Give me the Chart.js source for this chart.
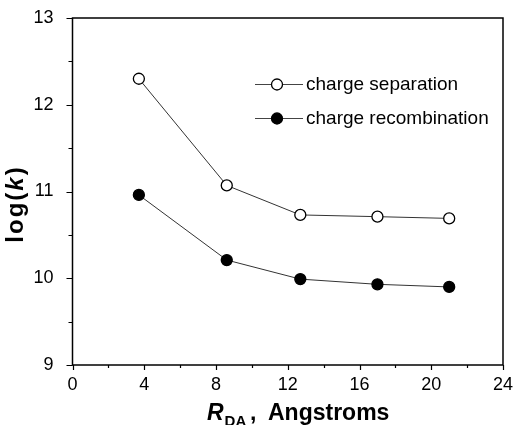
<!DOCTYPE html>
<html>
<head>
<meta charset="utf-8">
<style>
  html, body { margin: 0; padding: 0; background: #fff; }
  #chart { display: block; }
</style>
<script src="https://cdn.jsdelivr.net/npm/chart.js@4/dist/chart.umd.min.js"></script>
</head>
<body>
<canvas id="chart" width="514" height="425"></canvas>
<script>
  // donor-acceptor distance (Angstroms) and log rate constants
  const distances = [3.7, 8.6, 12.7, 17.0, 21.0];
  const separation = [12.30, 11.07, 10.73, 10.71, 10.69];
  const recombination = [10.96, 10.21, 9.99, 9.93, 9.90];
  const xTicks = [0, 4, 8, 12, 16, 20, 24];
  const yTicks = [9, 10, 11, 12, 13];
  const seriesNames = ['charge separation', 'charge recombination'];

  const FONT = '"Liberation Sans", Arial, sans-serif';

  function points(ys) {
    return distances.map((x, i) => ({ x, y: ys[i] }));
  }

  // frame, outward ticks, axis titles and the legend drawn by hand
  const decor = {
    id: 'decor',
    afterDraw(chart) {
      const { ctx, chartArea: a, scales: { x, y } } = chart;
      ctx.save();
      ctx.strokeStyle = '#000';
      ctx.lineWidth = 1.5;
      ctx.strokeRect(a.left, a.top, a.right - a.left, a.bottom - a.top);

      ctx.lineWidth = 1.2;
      ctx.beginPath();
      yTicks.forEach((v, i) => {
        const py = Math.round(y.getPixelForValue(v)) + 0.5;
        ctx.moveTo(a.left - 6, py); ctx.lineTo(a.left, py);
        if (i < yTicks.length - 1) {
          const pm = Math.round(y.getPixelForValue(v + 0.5)) + 0.5;
          ctx.moveTo(a.left - 4, pm); ctx.lineTo(a.left, pm);
        }
      });
      xTicks.forEach((v, i) => {
        const px = Math.round(x.getPixelForValue(v)) + 0.5;
        ctx.moveTo(px, a.bottom); ctx.lineTo(px, a.bottom + 5);
        if (i < xTicks.length - 1) {
          const pm = Math.round(x.getPixelForValue(v + 2)) + 0.5;
          ctx.moveTo(pm, a.bottom); ctx.lineTo(pm, a.bottom + 3);
        }
      });
      ctx.stroke();

      // y title: log(k), drawn glyph by glyph with a little extra spacing
      ctx.fillStyle = '#000';
      ctx.textBaseline = 'alphabetic';
      ctx.translate(22.5, 205);
      ctx.rotate(-Math.PI / 2);
      const glyphs = [['l', 'bold'], ['o', 'bold'], ['g', 'bold'], ['(', 'bold'], ['k', 'italic bold'], [')', 'bold']];
      const gap = 2;
      let total = 0;
      glyphs.forEach((p) => { ctx.font = `${p[1]} 24px ${FONT}`; total += ctx.measureText(p[0]).width + gap; });
      total -= gap;
      let cx = -total / 2;
      glyphs.forEach((p) => {
        ctx.font = `${p[1]} 24px ${FONT}`;
        ctx.fillText(p[0], cx, 0);
        cx += ctx.measureText(p[0]).width + gap;
      });
      ctx.setTransform(1, 0, 0, 1, 0, 0);

      // x title: R_DA, Angstroms
      const base = 420;
      ctx.font = `italic bold 23px ${FONT}`;
      ctx.fillText('R', 207, base);
      const rx = 207 + ctx.measureText('R').width + 1;
      ctx.font = `bold 15px ${FONT}`;
      ctx.fillText('DA', rx, base + 6);
      ctx.font = `bold 23px ${FONT}`;
      ctx.fillText(',', 250, base);
      ctx.fillText('Angstroms', 268, base);

      // legend
      const rows = [
        { y: 84, fill: '#fff' },
        { y: 118, fill: '#000' },
      ];
      rows.forEach((r, i) => {
        ctx.strokeStyle = '#444';
        ctx.lineWidth = 1;
        ctx.beginPath();
        ctx.moveTo(255, r.y + 0.5); ctx.lineTo(303, r.y + 0.5);
        ctx.stroke();
        ctx.beginPath();
        ctx.arc(277, r.y + 0.5, 5.5, 0, Math.PI * 2);
        ctx.fillStyle = r.fill;
        ctx.fill();
        ctx.strokeStyle = '#000';
        ctx.lineWidth = 1.3;
        ctx.stroke();
        ctx.fillStyle = '#000';
        ctx.font = `19px ${FONT}`;
        ctx.textBaseline = 'middle';
        ctx.fillText(seriesNames[i], 306, r.y + 1);
      });
      ctx.restore();
    },
  };

  const lineStyle = {
    showLine: true,
    tension: 0,
    borderColor: '#333',
    borderWidth: 1,
    pointRadius: 5.5,
    pointHoverRadius: 5.5,
    pointBorderColor: '#000',
    pointBorderWidth: 1.3,
  };

  new Chart(document.getElementById('chart'), {
    type: 'scatter',
    data: {
      datasets: [
        { label: seriesNames[0], data: points(separation), pointBackgroundColor: '#fff', ...lineStyle },
        { label: seriesNames[1], data: points(recombination), pointBackgroundColor: '#000', ...lineStyle },
      ],
    },
    options: {
      responsive: false,
      animation: false,
      devicePixelRatio: 1,
      layout: { padding: { top: 18, right: 11, left: 0, bottom: 0 } },
      plugins: { legend: { display: false }, tooltip: { enabled: false } },
      scales: {
        x: {
          type: 'linear', min: 0, max: 24,
          afterBuildTicks: (s) => { s.ticks = xTicks.map((v) => ({ value: v })); },
          afterFit: (s) => { s.height = 60; s.paddingLeft = 0; s.paddingRight = 0; },
          grid: { display: false }, border: { display: false },
          ticks: { color: '#000', padding: 1, font: { family: FONT, size: 18 } },
        },
        y: {
          type: 'linear', min: 9, max: 13,
          afterBuildTicks: (s) => { s.ticks = yTicks.map((v) => ({ value: v })); },
          afterFit: (s) => { s.width = 72.5; s.paddingTop = 0; s.paddingBottom = 0; },
          grid: { display: false }, border: { display: false },
          ticks: { color: '#000', padding: 11, font: { family: FONT, size: 18 } },
        },
      },
    },
    plugins: [decor],
  });
</script>
</body>
</html>
